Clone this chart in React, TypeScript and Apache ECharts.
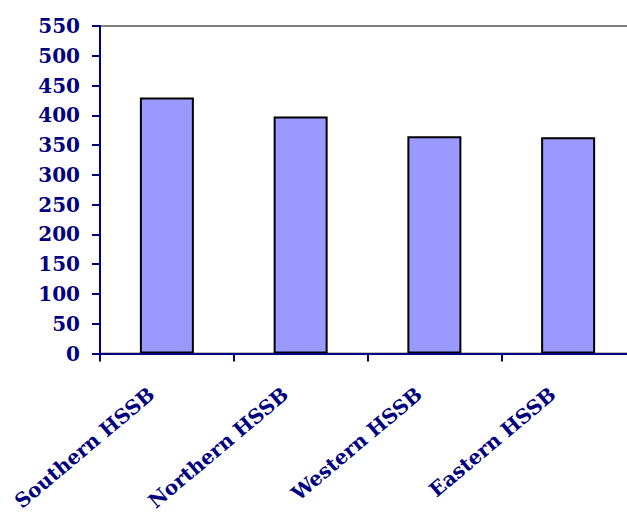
import React, { useEffect, useRef } from "react";
import * as echarts from "echarts";

const categories = ["Southern HSSB", "Northern HSSB", "Western HSSB", "Eastern HSSB"];
const values = [430, 398, 365, 363];
const yTicks = { min: 0, max: 550, interval: 50 };

export default function App() {
  const ref = useRef<HTMLDivElement>(null);
  useEffect(() => {
    if (!ref.current) return;
    const chart = echarts.init(ref.current, undefined, { renderer: "svg" });
    const navy = "#000080";
    const font = "'DejaVu Serif', 'Liberation Serif', serif";
    chart.setOption({
      animation: false,
      backgroundColor: "#ffffff",
      grid: {
        left: 100,
        right: 5,
        top: 26,
        bottom: 158.5,
        show: true,
        borderColor: "#808080",
        borderWidth: 2,
        containLabel: false,
        outerBoundsMode: "none",
      },
      xAxis: {
        type: "category",
        data: categories,
        boundaryGap: true,
        z: 5,
        axisLine: { lineStyle: { color: navy, width: 2 } },
        axisTick: { show: true, alignWithLabel: false, length: 8, lineStyle: { color: navy, width: 2 } },
        axisLabel: {
          rotate: 40,
          margin: 25,
          padding: [0, 20, 0, 0],
          lineHeight: 20,
          color: navy,
          fontFamily: font,
          fontWeight: "bold",
          fontSize: 20,
          interval: 0,
        },
        splitLine: { show: false },
      },
      yAxis: {
        type: "value",
        min: yTicks.min,
        max: yTicks.max,
        interval: yTicks.interval,
        z: 5,
        axisLine: { show: true, lineStyle: { color: navy, width: 2 } },
        axisTick: { show: true, length: 8, lineStyle: { color: navy, width: 2 } },
        axisLabel: {
          margin: 20,
          color: navy,
          fontFamily: font,
          fontWeight: "bold",
          fontSize: 20,
        },
        splitLine: { show: false },
      },
      series: [
        {
          type: "bar",
          data: values,
          barWidth: 54,
          itemStyle: { color: "#9999FF", borderColor: "#000000", borderWidth: 2 },
        },
      ],
    });
    return () => chart.dispose();
  }, []);
  return (
    <div style={{ position: "absolute", left: 0, top: 0, width: 627, height: 512, overflow: "hidden" }}>
      <div ref={ref} style={{ width: 640, height: 512 }} />
    </div>
  );
}
